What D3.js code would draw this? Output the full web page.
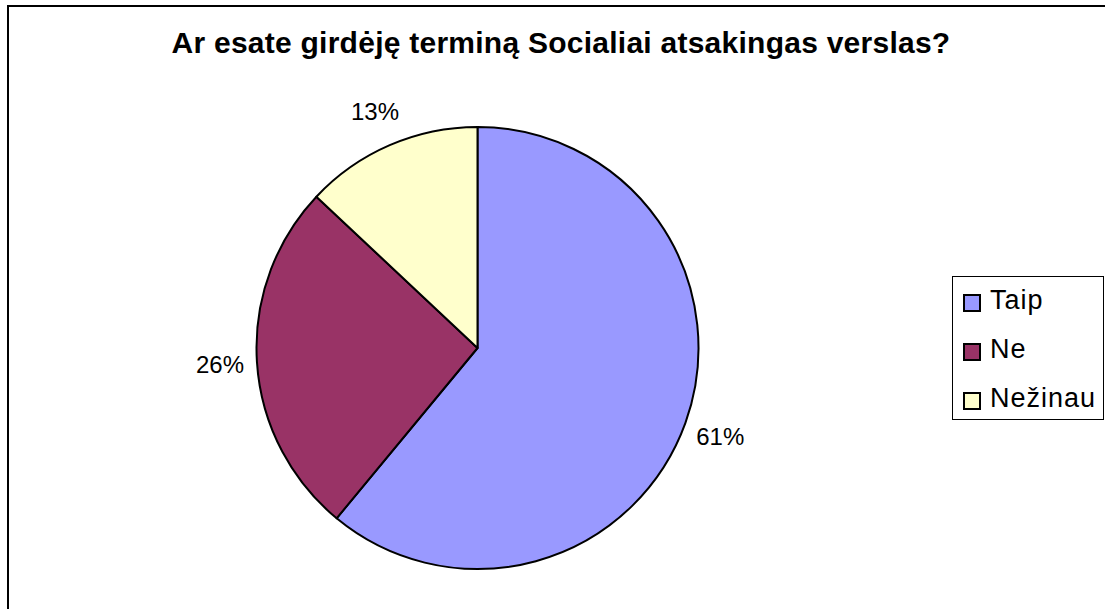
<!DOCTYPE html>
<html>
<head>
<meta charset="utf-8">
<script src="https://cdn.jsdelivr.net/npm/d3@7"></script>
<style>
  html, body { margin: 0; padding: 0; background: #fff; }
  svg { display: block; font-family: "Liberation Sans", Arial, sans-serif; }
</style>
</head>
<body>
<svg id="chart" width="1105" height="609"></svg>
<script>
// Survey answers and their shares (%)
const categories = ["Taip", "Ne", "Nežinau"];
const shares = [61, 26, 13];
const colors = ["#9999FF", "#993366", "#FFFFCC"];
const title = "Ar esate girdėję terminą Socialiai atsakingas verslas?";

const svg = d3.select("#chart");
const W = 1105, H = 609;

svg.append("rect").attr("width", W).attr("height", H).attr("fill", "#fff");

// Outer chart frame (right and bottom sides run off the canvas)
svg.append("rect")
  .attr("x", 8).attr("y", 6)
  .attr("width", W + 10).attr("height", H + 10)
  .attr("fill", "none").attr("stroke", "#000").attr("stroke-width", 2);

// Title
svg.append("text")
  .attr("x", 561).attr("y", 53)
  .attr("text-anchor", "middle")
  .attr("font-size", 30).attr("font-weight", "bold")
  .attr("letter-spacing", 0.25)
  .attr("fill", "#000")
  .text(title);

// Pie
const cx = 477.5, cy = 348, r = 221;
const data = categories.map((c, i) => ({ cat: c, value: shares[i], color: colors[i] }));
const pie = d3.pie().sort(null).value(d => d.value);
const arcs = pie(data);
const arc = d3.arc().innerRadius(0).outerRadius(r);
const labelArc = d3.arc().innerRadius(258).outerRadius(258);

const g = svg.append("g").attr("transform", `translate(${cx},${cy})`);
g.selectAll("path.slice")
  .data(arcs)
  .join("path")
  .attr("class", "slice")
  .attr("d", arc)
  .attr("fill", d => d.data.color)
  .attr("stroke", "#000")
  .attr("stroke-width", 2)
  .attr("stroke-linejoin", "round");

g.selectAll("text.pct")
  .data(arcs)
  .join("text")
  .attr("class", "pct")
  .attr("transform", d => `translate(${labelArc.centroid(d)})`)
  .attr("text-anchor", "middle")
  .attr("dy", "0.38em")
  .attr("font-size", 24)
  .attr("fill", "#000")
  .text(d => d.data.value + "%");

// Legend
const legend = svg.append("g");
legend.append("rect")
  .attr("x", 952.5).attr("y", 276.5)
  .attr("width", 151).attr("height", 143)
  .attr("fill", "#fff").attr("stroke", "#000").attr("stroke-width", 1);

const rows = legend.selectAll("g.row")
  .data(data)
  .join("g")
  .attr("class", "row")
  .attr("transform", (d, i) => `translate(0, ${309 + i * 49})`);

rows.append("rect")
  .attr("x", 964).attr("y", -14)
  .attr("width", 16).attr("height", 16)
  .attr("fill", d => d.color)
  .attr("stroke", "#000").attr("stroke-width", 2);

rows.append("text")
  .attr("x", 990).attr("y", 0)
  .attr("font-size", 27)
  .attr("letter-spacing", 1)
  .attr("fill", "#000")
  .text(d => d.cat);
</script>
</body>
</html>
